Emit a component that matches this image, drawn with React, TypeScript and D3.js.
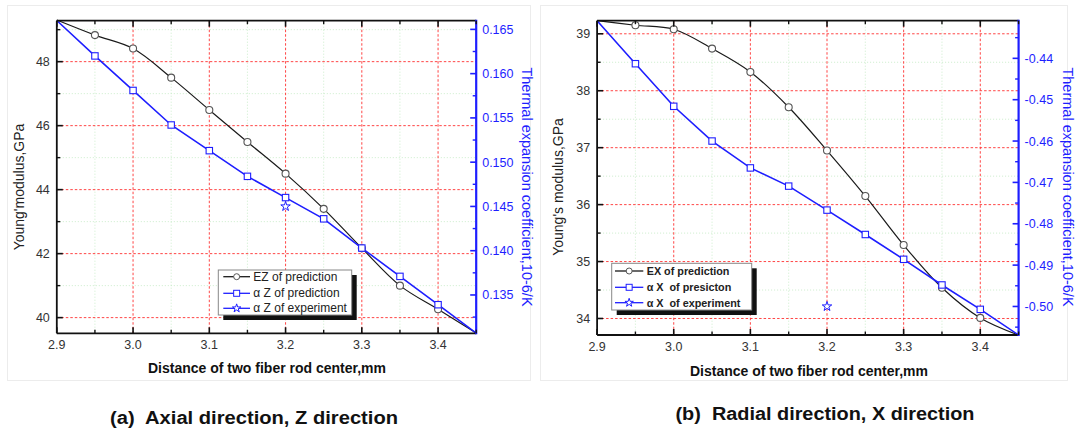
import React from 'react';
import * as d3 from 'd3';

// ---------- data ----------
const xValues = [2.9, 2.95, 3.0, 3.05, 3.1, 3.15, 3.2, 3.25, 3.3, 3.35, 3.4, 3.45];

const ezPrediction = [49.3, 48.83, 48.41, 47.5, 46.49, 45.49, 44.5, 43.4, 42.17, 41.0, 40.26, 39.52];
const azPrediction = [0.166, 0.162, 0.1581, 0.1542, 0.1513, 0.1484, 0.146, 0.1436, 0.1403, 0.1371, 0.1339, 0.1307];
const azExperimentX = [3.2];
const azExperiment = [0.145];

const exPrediction = [39.23, 39.15, 39.08, 38.74, 38.33, 37.71, 36.95, 36.15, 35.29, 34.54, 34.01, 33.71];
const axPrediction = [-0.4309, -0.4413, -0.4516, -0.46, -0.4665, -0.4709, -0.4767, -0.4826, -0.4886, -0.4948, -0.5007, -0.5069];
const axExperimentX = [3.2];
const axExperiment = [-0.5];

const xTicks = [2.9, 3.0, 3.1, 3.2, 3.3, 3.4];
const xMinorTicks = [2.95, 3.05, 3.15, 3.25, 3.35, 3.45];

const leftTicksA = [40, 42, 44, 46, 48];
const leftMinorA = [41, 43, 45, 47, 49];
const rightTicksA = [0.135, 0.14, 0.145, 0.15, 0.155, 0.16, 0.165];
const rightMinorA = [0.1325, 0.1375, 0.1425, 0.1475, 0.1525, 0.1575, 0.1625];

const leftTicksB = [34, 35, 36, 37, 38, 39];
const leftMinorB = [34.5, 35.5, 36.5, 37.5, 38.5];
const rightTicksB = [-0.44, -0.45, -0.46, -0.47, -0.48, -0.49, -0.5];
const rightMinorB = [-0.435, -0.445, -0.455, -0.465, -0.475, -0.485, -0.495, -0.505];

const legendA = ['EZ of prediction', 'α Z of prediction', 'α Z of experiment'];
const legendB = ['EX of prediction', 'α X  of presicton', 'α X  of experiment'];

const BLUE = '#1e1eff';
const FONT = 'Arial, "Liberation Sans", Helvetica, sans-serif';

type PanelProps = {
  x0: number; x1: number; y0: number; y1: number;
  leftDomain: [number, number]; rightDomain: [number, number];
  leftTicks: number[]; leftMinor: number[]; rightTicks: number[]; rightMinor: number[];
  leftFmt: (v: number) => string; rightFmt: (v: number) => string;
  eSeries: number[]; aSeries: number[]; expX: number[]; expY: number[];
  leftTitle: string; leftTitleX: number; rightTitleX: number; titleY: number;
  xTitleX: number; xTitleY: number;
  legend: string[]; legBox: [number, number, number, number]; legRows: number[];
  legLine: [number, number]; legText: number; legBold: boolean; legFont: number;
};

function Panel(p: PanelProps) {
  const x = d3.scaleLinear().domain([2.9, 3.45]).range([p.x0, p.x1]);
  const yl = d3.scaleLinear().domain(p.leftDomain).range([p.y1, p.y0]);
  const yr = d3.scaleLinear().domain(p.rightDomain).range([p.y1, p.y0]);
  const eLine = d3.line<number>().x((_, i) => x(xValues[i])).y(d => yl(d)).curve(d3.curveCatmullRom.alpha(0.5));
  const aLine = d3.line<number>().x((_, i) => x(xValues[i])).y(d => yr(d));
  const interior = xValues.map((v, i) => i).filter(i => xValues[i] > 2.91 && xValues[i] < 3.44);
  const star = d3.symbol().type(d3.symbolStar).size(28)() as string;
  const [lx0, ly0, lx1, ly1] = p.legBox;
  const mid = (p.legLine[0] + p.legLine[1]) / 2;
  const TK = '#111';
  return (
    <g fontFamily={FONT}>
      {/* minor grid */}
      {xMinorTicks.filter(t => t < 3.44).map(t => (
        <line key={'gx' + t} x1={x(t)} x2={x(t)} y1={p.y0} y2={p.y1} stroke="#bfe8bf" strokeWidth={0.8} strokeDasharray="1,2" />
      ))}
      {p.leftMinor.map(t => (
        <line key={'gy' + t} x1={p.x0} x2={p.x1} y1={yl(t)} y2={yl(t)} stroke="#bfe8bf" strokeWidth={0.8} strokeDasharray="1,2" />
      ))}
      {/* major grid */}
      {xTicks.filter(t => t > 2.91).map(t => (
        <line key={'Gx' + t} x1={x(t)} x2={x(t)} y1={p.y0} y2={p.y1} stroke="#ff3030" strokeWidth={0.9} strokeDasharray="2.5,2" />
      ))}
      {p.leftTicks.map(t => (
        <line key={'Gy' + t} x1={p.x0} x2={p.x1} y1={yl(t)} y2={yl(t)} stroke="#ff3030" strokeWidth={0.9} strokeDasharray="2.5,2" />
      ))}
      {/* series */}
      <path d={eLine(p.eSeries) || ''} fill="none" stroke="#1a1a1a" strokeWidth={1.2} />
      <path d={aLine(p.aSeries) || ''} fill="none" stroke={BLUE} strokeWidth={1.6} />
      {interior.map(i => (
        <circle key={'c' + i} cx={x(xValues[i])} cy={yl(p.eSeries[i])} r={3.5} fill="white" stroke="#555" strokeWidth={1.1} />
      ))}
      {interior.map(i => (
        <rect key={'s' + i} x={x(xValues[i]) - 3.2} y={yr(p.aSeries[i]) - 3.2} width={6.4} height={6.4} fill="white" stroke={BLUE} strokeWidth={1.1} />
      ))}
      {p.expX.map((v, i) => (
        <path key={'st' + i} d={star} transform={`translate(${x(v)},${yr(p.expY[i])})`} fill="white" stroke={BLUE} strokeWidth={1} />
      ))}
      {/* frame */}
      <line x1={p.x0} x2={p.x1} y1={p.y0} y2={p.y0} stroke={TK} strokeWidth={1.8} />
      <line x1={p.x0} x2={p.x1} y1={p.y1} y2={p.y1} stroke={TK} strokeWidth={1.8} />
      <line x1={p.x0} x2={p.x0} y1={p.y0} y2={p.y1} stroke={TK} strokeWidth={1.8} />
      <line x1={p.x1} x2={p.x1} y1={p.y0 - 1} y2={p.y1 + 1} stroke={BLUE} strokeWidth={2.2} />
      {/* x ticks (bottom and top, inward) */}
      {xTicks.map(t => (
        <g key={'xt' + t}>
          <line x1={x(t)} x2={x(t)} y1={p.y1} y2={p.y1 - 6} stroke={TK} strokeWidth={1.6} />
          <line x1={x(t)} x2={x(t)} y1={p.y0} y2={p.y0 + 6} stroke={TK} strokeWidth={1.6} />
          <text x={x(t)} y={p.y1 + 16} textAnchor="middle" fontSize={12.5} fill="#333">{t.toFixed(1)}</text>
        </g>
      ))}
      {xMinorTicks.map(t => (
        <g key={'xm' + t}>
          <line x1={x(t)} x2={x(t)} y1={p.y1} y2={p.y1 - 3.5} stroke={TK} strokeWidth={1.4} />
          <line x1={x(t)} x2={x(t)} y1={p.y0} y2={p.y0 + 3.5} stroke={TK} strokeWidth={1.4} />
        </g>
      ))}
      {/* left ticks */}
      {p.leftTicks.map(t => (
        <g key={'lt' + t}>
          <line x1={p.x0} x2={p.x0 + 6} y1={yl(t)} y2={yl(t)} stroke={TK} strokeWidth={1.6} />
          <text x={p.x0 - 7} y={yl(t) + 4.5} textAnchor="end" fontSize={12.5} fill="#333">{p.leftFmt(t)}</text>
        </g>
      ))}
      {p.leftMinor.map(t => (
        <line key={'lm' + t} x1={p.x0} x2={p.x0 + 3.5} y1={yl(t)} y2={yl(t)} stroke={TK} strokeWidth={1.4} />
      ))}
      {/* right ticks */}
      {p.rightTicks.map(t => (
        <g key={'rt' + t}>
          <line x1={p.x1} x2={p.x1 - 6} y1={yr(t)} y2={yr(t)} stroke={BLUE} strokeWidth={1.6} />
          <text x={p.x1 + 6} y={yr(t) + 4.5} textAnchor="start" fontSize={12.5} fill={BLUE}>{p.rightFmt(t)}</text>
        </g>
      ))}
      {p.rightMinor.filter(t => yr(t) > p.y0 && yr(t) < p.y1).map(t => (
        <line key={'rm' + t} x1={p.x1} x2={p.x1 - 3.5} y1={yr(t)} y2={yr(t)} stroke={BLUE} strokeWidth={1.4} />
      ))}
      {/* titles */}
      <text x={p.xTitleX} y={p.xTitleY} textAnchor="middle" fontSize={14} fontWeight="bold" fill="#111">
        Distance of two fiber rod center,mm
      </text>
      <text transform={`translate(${p.leftTitleX},${p.titleY}) rotate(-90)`} textAnchor="middle" fontSize={14} fill="#222" dy="0.35em">
        {p.leftTitle}
      </text>
      <text transform={`translate(${p.rightTitleX},${p.titleY}) rotate(90)`} textAnchor="middle" fontSize={14.5} fill={BLUE} dy="0.35em">
        Thermal expansion coefficient,10-6/K
      </text>
      {/* legend */}
      <rect x={lx0 + 5} y={ly0 + 5} width={lx1 - lx0} height={ly1 - ly0} fill="#111" />
      <rect x={lx0} y={ly0} width={lx1 - lx0} height={ly1 - ly0} fill="white" stroke="#888" strokeWidth={1} />
      {p.legend.map((label, i) => (
        <g key={'lg' + i}>
          <line x1={p.legLine[0]} x2={p.legLine[1]} y1={p.legRows[i]} y2={p.legRows[i]} stroke={i === 0 ? '#1a1a1a' : BLUE} strokeWidth={1.3} />
          {i === 0 && <circle cx={mid} cy={p.legRows[i]} r={3} fill="white" stroke="#555" strokeWidth={1} />}
          {i === 1 && <rect x={mid - 3} y={p.legRows[i] - 3} width={6} height={6} fill="white" stroke={BLUE} strokeWidth={1} />}
          {i === 2 && <path d={d3.symbol().type(d3.symbolStar).size(22)() as string} transform={`translate(${mid},${p.legRows[i]})`} fill="white" stroke={BLUE} strokeWidth={1} />}
          <text x={p.legText} y={p.legRows[i] + 4} fontSize={p.legFont} fontWeight={p.legBold ? 'bold' : 'normal'} fill="#222" style={{ whiteSpace: 'pre' }}>
            {label}
          </text>
        </g>
      ))}
    </g>
  );
}

export default function App() {
  const capFont = '"Liberation Sans Narrow", "Arial Narrow", Arial, sans-serif';
  return (
    <svg width={1076} height={430} style={{ position: 'absolute', left: 0, top: 0, background: 'white' }}>
      <rect x={0} y={0} width={1076} height={430} fill="white" />
      <rect x={7.5} y={5.5} width={523} height={375} fill="none" stroke="#ececec" />
      <rect x={540.5} y={5.5} width={527} height={375} fill="none" stroke="#ececec" />
      <Panel
        x0={56.8} x1={476.2} y0={20.7} y1={333.3}
        leftDomain={[39.51, 49.28]} rightDomain={[0.13067, 0.16598]}
        leftTicks={leftTicksA} leftMinor={leftMinorA} rightTicks={rightTicksA} rightMinor={rightMinorA}
        leftFmt={v => String(v)} rightFmt={v => v.toFixed(3)}
        eSeries={ezPrediction} aSeries={azPrediction} expX={azExperimentX} expY={azExperiment}
        leftTitle="Young'modulus,GPa" leftTitleX={19} rightTitleX={527} titleY={187}
        xTitleX={267} xTitleY={373}
        legend={legendA} legBox={[218.3, 270, 351.7, 315]} legRows={[276.7, 293.3, 308.3]}
        legLine={[223.3, 250]} legText={253.3} legBold={false} legFont={12}
      />
      <Panel
        x0={597.1} x1={1018.6} y0={20.7} y1={335}
        leftDomain={[33.71, 39.23]} rightDomain={[-0.5069, -0.4309]}
        leftTicks={leftTicksB} leftMinor={leftMinorB} rightTicks={rightTicksB} rightMinor={rightMinorB}
        leftFmt={v => String(v)} rightFmt={v => v.toFixed(2)}
        eSeries={exPrediction} aSeries={axPrediction} expX={axExperimentX} expY={axExperiment}
        leftTitle="Young's modulus,GPa" leftTitleX={558} rightTitleX={1068} titleY={187}
        xTitleX={809} xTitleY={376}
        legend={legendB} legBox={[611.7, 263.3, 751.7, 310]} legRows={[271, 287.3, 302.7]}
        legLine={[615, 643.3]} legText={646.7} legBold={true} legFont={10.8}
      />
      <text x={254} y={424} textAnchor="middle" fontSize={18} fontWeight="bold" fontFamily={capFont} fill="#111" textLength={288} lengthAdjust="spacingAndGlyphs" style={{ whiteSpace: 'pre' }}>
        (a)  Axial direction, Z direction
      </text>
      <text x={825} y={420} textAnchor="middle" fontSize={18} fontWeight="bold" fontFamily={capFont} fill="#111" textLength={299} lengthAdjust="spacingAndGlyphs" style={{ whiteSpace: 'pre' }}>
        (b)  Radial direction, X direction
      </text>
    </svg>
  );
}
